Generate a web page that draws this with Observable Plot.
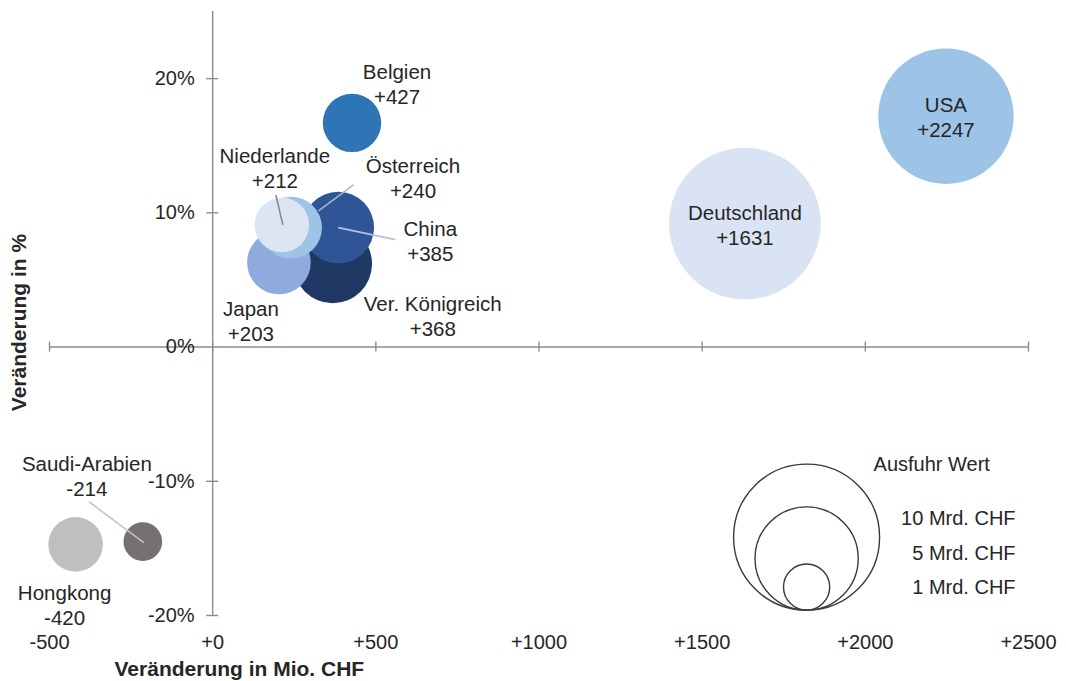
<!DOCTYPE html>
<html>
<head>
<meta charset="utf-8">
<script src="https://cdn.jsdelivr.net/npm/d3@7"></script>
<script src="https://cdn.jsdelivr.net/npm/@observablehq/plot@0.6"></script>
<style>
  html, body { margin: 0; padding: 0; background: #fff; overflow: hidden; }
  #chart svg { display: block; }
</style>
</head>
<body>
<div id="chart"></div>
<script>
// ---- data ----
const countries = ["USA", "Deutschland", "Belgien", "Niederlande", "Österreich", "China", "Ver. Königreich", "Japan", "Saudi-Arabien", "Hongkong"];
const changeMio = [2247, 1631, 427, 212, 240, 385, 368, 203, -214, -420];
const changePct = [17.2, 9.2, 16.7, 9.1, 8.9, 8.9, 6.2, 6.3, -14.5, -14.7];
const exportMrd = [8.6, 10.8, 1.6, 1.4, 1.8, 2.4, 2.9, 1.9, 0.7, 1.4];
const xTicks = [-500, 0, 500, 1000, 1500, 2000, 2500];
const yTicks = [-20, -10, 0, 10, 20];
const legendValues = [10, 5, 1];
const legendLabels = ["10 Mrd. CHF", "5 Mrd. CHF", "1 Mrd. CHF"];
const legendTitle = "Ausfuhr Wert";
const xTitle = "Veränderung in Mio. CHF";
const yTitle = "Veränderung in %";

// ---- styles / layout ----
const colors = ["#9dc3e6", "#dae3f3", "#2e75b6", "#dce6f2", "#9dc3e6", "#2f5597", "#1f3864", "#8faadc", "#767171", "#bfbfbf"];
const W = 1066, H = 681;
const M = {top: 11, right: 38, bottom: 66, left: 49};
const xDomain = [-500, 2500], yDomain = [-20, 25];
const rMax = 73; // pixel radius of 10 Mrd.
const axisColor = "#8c8c8c";
const textColor = "#262626";
const font = "'Liberation Sans', Arial, Helvetica, sans-serif";

// label offsets (px) from bubble centre
const labelOffsets = {
  "USA": [0, 0], "Deutschland": [0, 1], "Belgien": [45, -39], "Niederlande": [-7, -57],
  "Österreich": [122, -50], "China": [92, 13], "Ver. Königreich": [100, 52], "Japan": [-28, 58],
  "Saudi-Arabien": [-56, -66], "Hongkong": [-11, 60]
};
// leader lines: start/end offsets (px) from bubble centre
const leaders = [
  {country: "Niederlande", from: [1, 0], to: [-6, -30], stroke: "#8a8a8a"},
  {country: "Österreich", from: [27.5, -16.7], to: [62.5, -42.7], stroke: "#a9b6cc"},
  {country: "China", from: [0, 0], to: [57, 12], stroke: "#b4c3dd"},
  {country: "Saudi-Arabien", from: [1, 1], to: [-54, -40], stroke: "#c4c4c4"}
];
const legendPos = {x: 1820, bottom: -19.6};
const legendTitleOffset = [67, -146];
const legendLabelOffsets = [[209, -92], [209, -57], [209, -23]];

const fmt = d => (d >= 0 ? "+" : "") + d;

const rows = countries.map((c, i) => ({country: c, mio: changeMio[i], pct: changePct[i], v: exportMrd[i]}));

const xS = Plot.scale({x: {domain: xDomain, range: [M.left, W - M.right]}});
const yS = Plot.scale({y: {domain: yDomain, range: [H - M.bottom, M.top]}});
const rS = Plot.scale({r: {type: "sqrt", domain: [0, 10], range: [0, rMax]}});

const leaderRows = leaders.map(l => {
  const r = rows.find(d => d.country === l.country);
  const px = xS.apply(r.mio), py = yS.apply(r.pct);
  return {
    x1: xS.invert(px + l.from[0]), y1: yS.invert(py + l.from[1]),
    x2: xS.invert(px + l.to[0]), y2: yS.invert(py + l.to[1]), stroke: l.stroke
  };
});

const labelMarks = rows.map(r => Plot.text([r], {
  x: "mio", y: "pct", text: d => d.country + "\n" + fmt(d.mio),
  dx: labelOffsets[r.country][0], dy: labelOffsets[r.country][1],
  lineAnchor: "middle", lineHeight: 1.22, fontSize: 20.5, fill: textColor
}));

const legendBottomPx = yS.apply(legendPos.bottom);

const plot = Plot.plot({
  width: W, height: H,
  marginTop: M.top, marginRight: M.right, marginBottom: M.bottom, marginLeft: M.left,
  style: {fontFamily: font, fontSize: "20px", color: textColor, background: "#fff"},
  x: {domain: xDomain},
  y: {domain: yDomain, axis: null},
  r: {type: "sqrt", domain: [0, 10], range: [0, rMax]},
  color: {type: "ordinal", domain: countries, range: colors},
  marks: [
    // axes lines crossing at 0
    Plot.ruleY([0], {x1: xTicks[0], x2: xTicks[xTicks.length - 1], stroke: axisColor, strokeWidth: 1.4}),
    Plot.ruleX([0], {y1: yDomain[0], y2: yDomain[1], stroke: axisColor, strokeWidth: 1.4}),
    Plot.ruleX(xTicks, {x: d => d, y1: 0, y2: 0, insetTop: -5, insetBottom: -5, stroke: axisColor, strokeWidth: 1.4}),
    Plot.ruleY(yTicks.filter(d => d !== 0), {y: d => d, x1: 0, x2: 0, insetLeft: -6, insetRight: -6, stroke: axisColor, strokeWidth: 1.4}),
    // bubbles
    Plot.dot(rows, {x: "mio", y: "pct", r: "v", fill: "country", fillOpacity: 1}),
    // leader lines
    Plot.link(leaderRows, {x1: "x1", y1: "y1", x2: "x2", y2: "y2", stroke: d => d.stroke, strokeWidth: 1.6}),
    // labels
    ...labelMarks,
    // x axis tick labels
    Plot.axisX({ticks: xTicks, tickFormat: fmt, tickSize: 0, tickPadding: 19, label: null, fontSize: 20, fill: textColor}),
    // y tick labels near the x=0 axis
    Plot.text(yTicks, {x: 0, y: d => d, text: d => d + "%", textAnchor: "end", dx: -18, lineAnchor: "middle", fontSize: 20, fill: textColor}),
    // axis titles
    Plot.text([xTitle], {frameAnchor: "bottom-left", text: d => d, textAnchor: "start", lineAnchor: "bottom", dx: 65, dy: 60, fontSize: 21, fontWeight: "bold", fill: textColor}),
    Plot.text([yTitle], {frameAnchor: "left", text: d => d, rotate: -90, textAnchor: "middle", lineAnchor: "middle", dx: -30, dy: 9, fontSize: 21, fontWeight: "bold", fill: textColor}),
    // size legend (nested circles sharing a bottom)
    Plot.dot(legendValues, {
      x: () => legendPos.x,
      y: d => yS.invert(legendBottomPx - rS.apply(d)),
      r: d => d, fill: "none", stroke: "#3a3a3a", strokeWidth: 1.4, sort: null
    }),
    Plot.text([legendTitle], {x: () => legendPos.x, y: () => legendPos.bottom, text: d => d, textAnchor: "start",
      dx: legendTitleOffset[0], dy: legendTitleOffset[1], lineAnchor: "middle", fontSize: 20, fill: textColor}),
    ...legendLabels.map((lab, i) => Plot.text([lab], {x: () => legendPos.x, y: () => legendPos.bottom, text: d => d,
      textAnchor: "end", dx: legendLabelOffsets[i][0], dy: legendLabelOffsets[i][1], lineAnchor: "middle", fontSize: 20, fill: textColor}))
  ]
});

document.getElementById("chart").appendChild(plot);
</script>
</body>
</html>
